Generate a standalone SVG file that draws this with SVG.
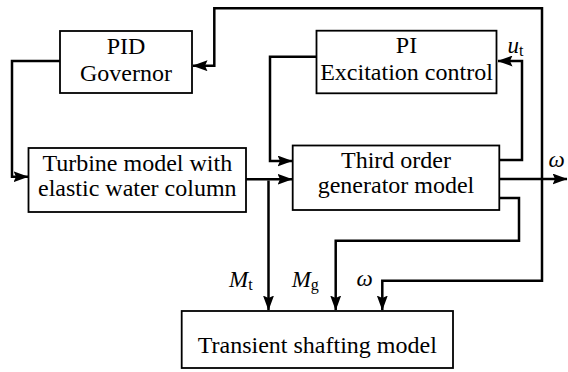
<svg xmlns="http://www.w3.org/2000/svg" width="568" height="372" viewBox="0 0 568 372">
<style>
.box{fill:#fff;stroke:#000;stroke-width:1.8}
.c{fill:none;stroke:#000;stroke-width:2.5}
</style>
<defs>
<marker id="ah" markerUnits="userSpaceOnUse" markerWidth="15" markerHeight="11" viewBox="0 0 15 11" refX="14.5" refY="5.5" orient="auto">
<path d="M0,0 L15,5.5 L0,11 L2.5,5.5 Z" fill="#000"/>
</marker>
</defs>
<rect width="568" height="372" fill="#fff"/>
<g id="connectors">
<path class="c" d="M542,179 V8.3 H214.3 V65.7 H193" marker-end="url(#ah)"/>
<path class="c" d="M542,179 V280.7 H382.3 V310" marker-end="url(#ah)"/>
<path class="c" d="M499,179 H567" marker-end="url(#ah)"/>
<path class="c" d="M499,160 H522 V61 H498" marker-end="url(#ah)"/>
<path class="c" d="M316,56.7 H270 V161 H292" marker-end="url(#ah)"/>
<path class="c" d="M60,61 H12 V176.7 H28" marker-end="url(#ah)"/>
<path class="c" d="M246,179.3 H292" marker-end="url(#ah)"/>
<path class="c" d="M268.5,180.5 V310" marker-end="url(#ah)"/>
<path class="c" d="M499,198 H519 V240.7 H335.7 V310" marker-end="url(#ah)"/>
</g>
<g font-family="Liberation Serif, serif" font-size="24" text-anchor="middle" fill="#000">
<g id="pid">
<rect class="box" x="60" y="31" width="132" height="62"/>
<text x="126" y="54.3">PID</text>
<text x="126" y="81">Governor</text>
</g>
<g id="pi">
<rect class="box" x="316.5" y="30.7" width="180" height="62.6"/>
<text x="406.5" y="53">PI</text>
<text x="406.5" y="79.5">Excitation control</text>
</g>
<g id="turbine">
<rect class="box" x="28.5" y="148" width="217.5" height="64"/>
<text x="137.3" y="170.5">Turbine model with</text>
<text x="137.3" y="195.5">elastic water column</text>
</g>
<g id="generator">
<rect class="box" x="292.7" y="145.5" width="206.6" height="64.5"/>
<text x="396" y="168.3">Third order</text>
<text x="396" y="193.3">generator model</text>
</g>
<g id="shafting">
<rect class="box" x="181.7" y="311" width="271.3" height="57"/>
<text x="317.3" y="352.7">Transient shafting model</text>
</g>
</g>
<g id="labels" font-family="Liberation Serif, serif" font-size="23" font-style="italic" fill="#000">
<text x="229" y="286.7">M<tspan font-style="normal" font-size="16" dy="3">t</tspan></text>
<text x="291.7" y="286.7">M<tspan font-style="normal" font-size="16" dy="3">g</tspan></text>
<text x="356.5" y="286">ω</text>
<text x="548.5" y="167">ω</text>
<text x="507.5" y="53">u<tspan font-style="normal" font-size="16" dy="3">t</tspan></text>
</g>
</svg>
